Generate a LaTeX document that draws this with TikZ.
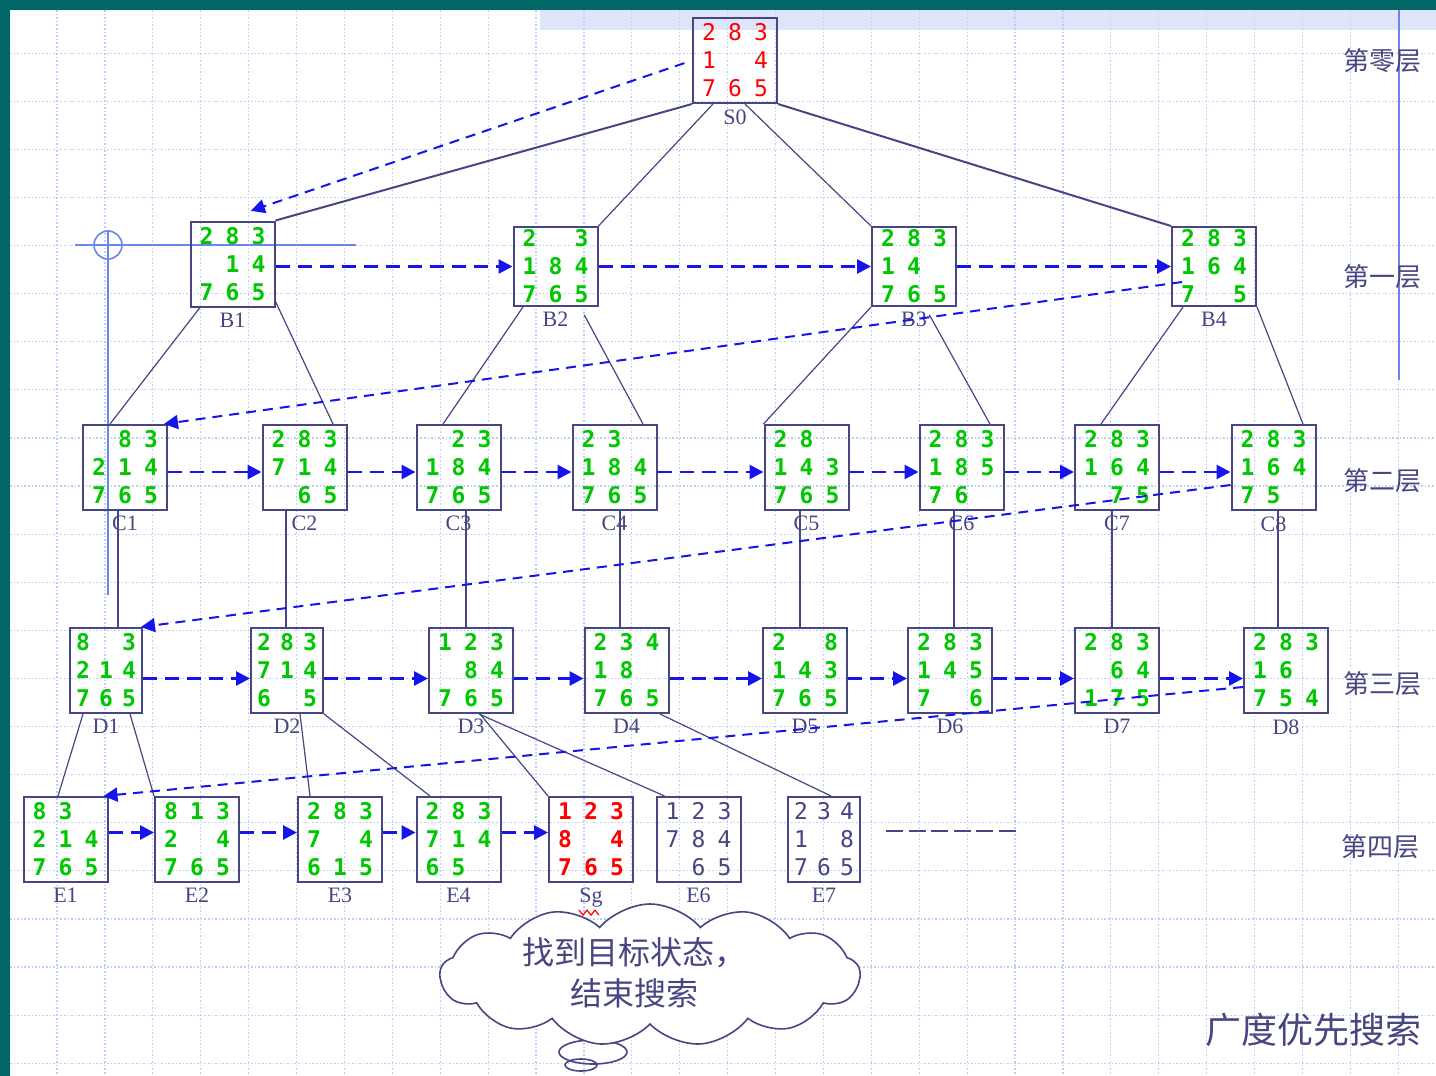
\documentclass[tikz,border=0pt]{standalone}
\usepackage{fontspec}
\setmainfont{Liberation Serif}
\newfontfamily\cjk{Noto Sans CJK SC}
\newfontfamily\digitfont{DejaVu Sans Mono}
\usetikzlibrary{arrows.meta,shapes.symbols}

\definecolor{slate}{RGB}{70,70,130}
\definecolor{bfsblue}{RGB}{20,20,235}
\definecolor{digitgreen}{RGB}{0,200,0}
\definecolor{digitred}{RGB}{255,0,0}
\definecolor{gridblue}{RGB}{190,205,245}
\definecolor{frame}{RGB}{0,102,102}
\definecolor{hatch}{RGB}{222,229,248}
\definecolor{guide}{RGB}{105,135,235}

\newlength\colw
\setlength\colw{13pt}
% one 8-puzzle board, row by row; {} is the blank
\newcommand{\pz}[9]{%
  \makebox[\colw]{#1}\makebox[\colw]{#2}\makebox[\colw]{#3}\\
  \makebox[\colw]{#4}\makebox[\colw]{#5}\makebox[\colw]{#6}\\
  \makebox[\colw]{#7}\makebox[\colw]{#8}\makebox[\colw]{#9}}

\tikzset{
  puzzle/.style={draw=slate, line width=1pt, minimum width=42pt, minimum height=42.5pt,
    inner sep=0pt, align=center, text=digitgreen,
    font=\digitfont\bfseries\fontsize{11.5}{14}\selectfont},
  rootbox/.style={text=digitred, font=\digitfont\fontsize{11.5}{14}\selectfont},
  goalbox/.style={text=digitred},
  unvisited/.style={text=slate, font=\digitfont\fontsize{11.5}{14}\selectfont},
  flat/.style={minimum height=39.5pt},
  slim/.style={minimum width=36pt, execute at begin node={\setlength\colw{11.5pt}}},
  lab/.style={font=\fontsize{11}{11}\selectfont, text=slate, inner sep=1pt},
  every label/.style={label distance=1.5pt},
  link/.style={color=slate, line width=0.6pt},
  heavy/.style={link, line width=1pt},
  bfs/.style={color=bfsblue, line width=1.4pt, dash pattern=on 7pt off 4pt,
    -{Triangle[length=7pt,width=7pt]}},
  bfslong/.style={bfs, line width=1pt, dash pattern=on 5pt off 3.5pt},
  levellab/.style={font=\cjk\fontsize{13}{13}\selectfont, text=slate},
  gridline/.style={draw=gridblue, line width=0.6pt, dash pattern=on 0.8pt off 1pt},
  guideline/.style={draw=guide, line width=1pt},
}

\begin{document}
\begin{tikzpicture}[x=0.5pt, y=-0.5pt]
  \useasboundingbox (0,0) rectangle (1436,1076);
  % slide frame and background grid
  \fill[frame] (0,0) rectangle (1436,1076);
  \fill[white] (10,10) rectangle (1436,1076);
  \fill[hatch] (540,10) rectangle (1436,30);
  \foreach \i in {1,...,29}
    \draw[gridline] ({9.1+47.9*\i},10) -- ({9.1+47.9*\i},1076);
  \foreach \j in {1,...,22}
    \draw[gridline] (10,{5+48.1*\j}) -- (1436,{5+48.1*\j});
  \draw[guideline] (1399,10) -- (1399,380);
  \draw[guideline] (75,245) -- (356,245);
  \draw[guideline] (108,230) -- (108,595);
  \draw[guideline, line width=0.8pt] (108,245) ellipse (7pt and 7pt);

  % level 0
  \node [puzzle, rootbox] (S0) at (735,60.5) [label={[lab]below:S0}] {\pz{2}{8}{3}{1}{}{4}{7}{6}{5}};
  % level 1
  \node [puzzle] (B1) at (232.5,264) [label={[lab]below:B1}] {\pz{2}{8}{3}{}{1}{4}{7}{6}{5}};
  \node [puzzle, flat] (B2) at (555.5,266.5) [label={[lab]below:B2}] {\pz{2}{}{3}{1}{8}{4}{7}{6}{5}};
  \node [puzzle, flat] (B3) at (914,266.5) [label={[lab]below:B3}] {\pz{2}{8}{3}{1}{4}{}{7}{6}{5}};
  \node [puzzle, flat] (B4) at (1214,266.5) [label={[lab]below:B4}] {\pz{2}{8}{3}{1}{6}{4}{7}{}{5}};
  % level 2
  \node [puzzle] (C1) at (125,467.5) [label={[lab]below:C1}] {\pz{}{8}{3}{2}{1}{4}{7}{6}{5}};
  \node [puzzle] (C2) at (304.5,467.5) [label={[lab]below:C2}] {\pz{2}{8}{3}{7}{1}{4}{}{6}{5}};
  \node [puzzle] (C3) at (458.5,467.5) [label={[lab]below:C3}] {\pz{}{2}{3}{1}{8}{4}{7}{6}{5}};
  \node [puzzle] (C4) at (614.5,467.5) [label={[lab]below:C4}] {\pz{2}{3}{}{1}{8}{4}{7}{6}{5}};
  \node [puzzle] (C5) at (806.5,467.5) [label={[lab]below:C5}] {\pz{2}{8}{}{1}{4}{3}{7}{6}{5}};
  \node [puzzle] (C6) at (961.5,467.5) [label={[lab]below:C6}] {\pz{2}{8}{3}{1}{8}{5}{7}{6}{}};
  \node [puzzle] (C7) at (1117,467.5) [label={[lab]below:C7}] {\pz{2}{8}{3}{1}{6}{4}{}{7}{5}};
  \node [puzzle] (C8) at (1273.5,467.5) [label={[lab]below:C8}] {\pz{2}{8}{3}{1}{6}{4}{7}{5}{}};
  % level 3
  \node [puzzle, slim] (D1) at (106,670.5) [label={[lab]below:D1}] {\pz{8}{}{3}{2}{1}{4}{7}{6}{5}};
  \node [puzzle, slim] (D2) at (287,670.5) [label={[lab]below:D2}] {\pz{2}{8}{3}{7}{1}{4}{6}{}{5}};
  \node [puzzle] (D3) at (471,670.5) [label={[lab]below:D3}] {\pz{1}{2}{3}{}{8}{4}{7}{6}{5}};
  \node [puzzle] (D4) at (626.5,670.5) [label={[lab]below:D4}] {\pz{2}{3}{4}{1}{8}{}{7}{6}{5}};
  \node [puzzle] (D5) at (805,670.5) [label={[lab]below:D5}] {\pz{2}{}{8}{1}{4}{3}{7}{6}{5}};
  \node [puzzle] (D6) at (950,670.5) [label={[lab]below:D6}] {\pz{2}{8}{3}{1}{4}{5}{7}{}{6}};
  \node [puzzle] (D7) at (1117,670.5) [label={[lab]below:D7}] {\pz{2}{8}{3}{}{6}{4}{1}{7}{5}};
  \node [puzzle] (D8) at (1286,670.5) [label={[lab]below:D8}] {\pz{2}{8}{3}{1}{6}{}{7}{5}{4}};
  % level 4
  \node [puzzle] (E1) at (65.5,839.5) [label={[lab]below:E1}] {\pz{8}{3}{}{2}{1}{4}{7}{6}{5}};
  \node [puzzle] (E2) at (197,839.5) [label={[lab]below:E2}] {\pz{8}{1}{3}{2}{}{4}{7}{6}{5}};
  \node [puzzle] (E3) at (340,839.5) [label={[lab]below:E3}] {\pz{2}{8}{3}{7}{}{4}{6}{1}{5}};
  \node [puzzle] (E4) at (458.5,839.5) [label={[lab]below:E4}] {\pz{2}{8}{3}{7}{1}{4}{6}{5}{}};
  \node [puzzle, goalbox] (Sg) at (591,839.5) [label={[lab,name=sglab]below:Sg}] {\pz{1}{2}{3}{8}{}{4}{7}{6}{5}};
  \node [puzzle, unvisited] (E6) at (698.5,839.5) [label={[lab]below:E6}] {\pz{1}{2}{3}{7}{8}{4}{}{6}{5}};
  \node [puzzle, unvisited, slim] (E7) at (824,839.5) [label={[lab]below:E7}] {\pz{2}{3}{4}{1}{}{8}{7}{6}{5}};
  \draw[digitred, line width=0.6pt] ([xshift=1pt]sglab.south west) -- ++(2pt,-2.5pt) -- ++(2pt,2.5pt)
    -- ++(2pt,-2.5pt) -- ++(2pt,2.5pt) -- ++(2pt,-2.5pt);
  \draw[slate, line width=1pt, dash pattern=on 8.5pt off 2.8pt]
    ([xshift=12.5pt,yshift=4.25pt]E7.east) -- ++(65pt,0);

  % search tree
  \path[heavy]
    (S0.south west) edge (B1.north east)
    (S0.south east) edge (B4.north west);
  \path[link]
    ([xshift=-11pt]S0.south) edge (B2.north east)
    ([xshift=5pt]S0.south) edge (B3.north west)
    ([xshift=-16.25pt]B1.south) edge ([xshift=-7.5pt]C1.north)
    ([yshift=3pt]B1.south east) edge ([xshift=14.25pt]C2.north)
    ([xshift=-16.25pt]B2.south) edge ([xshift=-7.75pt]C3.north)
    ([xshift=12.25pt]B2.south) edge[shorten <=4.5pt] ([xshift=14.25pt]C4.north)
    (B3.south west) edge (C5.north west)
    ([xshift=5.5pt]B3.south) edge[shorten <=4.5pt] ([xshift=14.25pt]C6.north)
    ([xshift=-15.5pt]B4.south) edge ([xshift=-8pt]C7.north)
    (B4.south east) edge ([xshift=14.75pt]C8.north)
    ([xshift=-3.5pt]C1.south) edge ([xshift=6pt]D1.north)
    ([xshift=-9.25pt]C2.south) edge ([xshift=-0.5pt]D2.north)
    ([xshift=3.75pt]C3.south) edge ([xshift=-2.5pt]D3.north)
    ([xshift=2.75pt]C4.south) edge ([xshift=-3.25pt]D4.north)
    ([xshift=-3.25pt]C5.south) edge ([xshift=-2.5pt]D5.north)
    ([xshift=-3.75pt]C6.south) edge ([xshift=2pt]D6.north)
    ([xshift=-2.5pt]C7.south) edge ([xshift=-2.5pt]D7.north)
    ([xshift=2.25pt]C8.south) edge ([xshift=-4pt]D8.north)
    ([xshift=-11.5pt]D1.south) edge ([xshift=-3.75pt]E1.north)
    ([xshift=12pt]D1.south) edge (E2.north west)
    ([xshift=6.5pt]D2.south) edge ([xshift=-15pt]E3.north)
    (D2.south east) edge ([xshift=-14.25pt]E4.north)
    ([xshift=4.5pt]D3.south) edge (Sg.north west)
    ([xshift=4pt]D3.south) edge ([xshift=4.5pt]E6.north west)
    ([xshift=16.75pt]D4.south) edge ([xshift=3.5pt]E7.north);

  % breadth-first visiting order
  \path[bfslong]
    (S0.west) edge[shorten <=4pt, shorten >=15pt] ([xshift=-5pt]B1.north)
    ([xshift=5.5pt,yshift=-7.75pt]B4.west) edge ([xshift=-2pt]C1.north east)
    ([yshift=-8.75pt]C8.west) edge ([xshift=-1pt]D1.north east)
    ([yshift=-8.25pt]D8.west) edge ([xshift=-2.5pt]E1.north east);
  \path[bfs]
    (B1.east |- B2.west) edge (B2.west)
    (B2.east) edge (B3.west)
    (B3.east) edge (B4.west)
    ([yshift=-2.25pt]C1.east) edge ([yshift=-2.25pt]C2.west)
    ([yshift=-2.25pt]C2.east) edge ([yshift=-2.25pt]C3.west)
    ([yshift=-2.25pt]C3.east) edge ([yshift=-2.25pt]C4.west)
    ([yshift=-2.25pt]C4.east) edge ([yshift=-2.25pt]C5.west)
    ([yshift=-2.25pt]C5.east) edge ([yshift=-2.25pt]C6.west)
    ([yshift=-2.25pt]C6.east) edge ([yshift=-2.25pt]C7.west)
    ([yshift=-2.25pt]C7.east) edge ([yshift=-2.25pt]C8.west)
    ([yshift=-4pt]D1.east) edge ([yshift=-4pt]D2.west)
    ([yshift=-4pt]D2.east) edge ([yshift=-4pt]D3.west)
    ([yshift=-4pt]D3.east) edge ([yshift=-4pt]D4.west)
    ([yshift=-4pt]D4.east) edge ([yshift=-4pt]D5.west)
    ([yshift=-4pt]D5.east) edge ([yshift=-4pt]D6.west)
    ([yshift=-4pt]D6.east) edge ([yshift=-4pt]D7.west)
    ([yshift=-4pt]D7.east) edge ([yshift=-4pt]D8.west)
    ([yshift=3.5pt]E1.east) edge ([yshift=3.5pt]E2.west)
    ([yshift=3.5pt]E2.east) edge ([yshift=3.5pt]E3.west)
    ([yshift=3.5pt]E3.east) edge ([yshift=3.5pt]E4.west)
    ([yshift=3.5pt]E4.east) edge ([yshift=3.5pt]Sg.west);

  % the goal callout
  \draw[slate, line width=0.8pt] (593,1052) ellipse (17pt and 6pt);
  \draw[slate, line width=0.8pt] (581,1065) ellipse (8pt and 3pt);
  \node[cloud, draw=slate, fill=white, line width=0.8pt, cloud puffs=13, cloud puff arc=100,
    cloud ignores aspect, minimum width=210pt, minimum height=71pt, inner sep=0pt]
    (goal) at (650,975) {};
  \node[font=\cjk\fontsize{16}{20.5}\selectfont, text=slate, align=center]
    (goaltext) at (634,973) {找到目标状态，\\结束搜索};

  % level captions
  \node[levellab] (L0) at (1382,61) {第零层};
  \node[levellab] (L1) at (1382,277) {第一层};
  \node[levellab] (L2) at (1382,481) {第二层};
  \node[levellab] (L3) at (1382,684) {第三层};
  \node[levellab] (L4) at (1380,847) {第四层};
  \node[font=\cjk\fontsize{18}{18}\selectfont, text=slate] (title) at (1313,1030) {广度优先搜索};
\end{tikzpicture}
\end{document}
